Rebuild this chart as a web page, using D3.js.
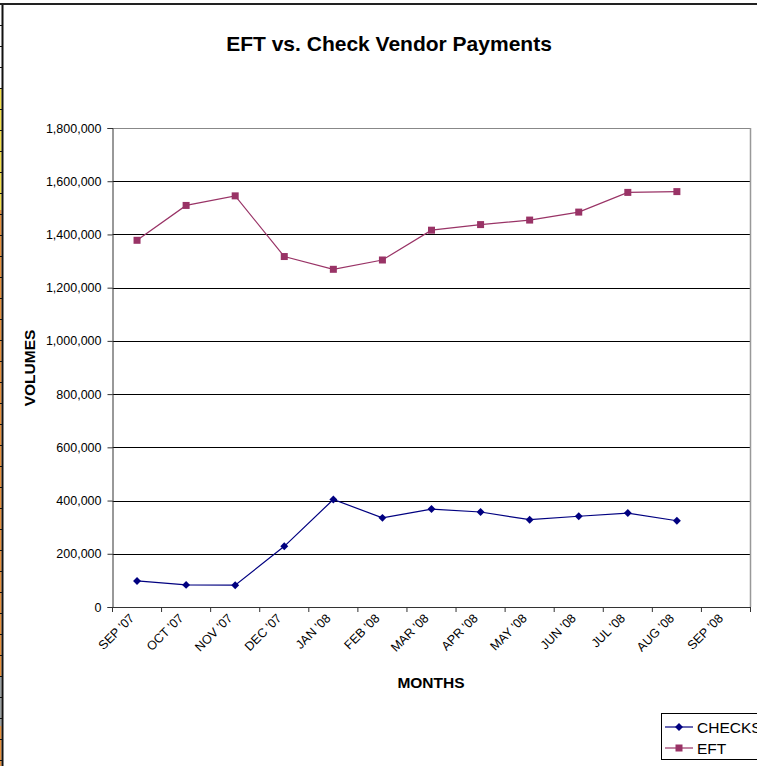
<!DOCTYPE html>
<html><head><meta charset="utf-8">
<script src="https://cdn.jsdelivr.net/npm/d3@7"></script>
<style>body{margin:0;background:#fff}svg{display:block;font-family:Arial,"Liberation Sans",sans-serif}</style>
</head><body>
<script>
const months = ["SEP '07","OCT '07","NOV '07","DEC '07","JAN '08","FEB '08","MAR '08","APR '08","MAY '08","JUN '08","JUL '08","AUG '08","SEP '08"];
const checks = [98000, 83000, 82000, 228000, 404000, 335000, 368000, 357000, 328000, 341000, 353000, 324000];
const eft = [1378000, 1509000, 1545000, 1317000, 1269000, 1304000, 1416000, 1437000, 1454000, 1484000, 1558000, 1561000];
const yTicks = [0,200000,400000,600000,800000,1000000,1200000,1400000,1600000,1800000];
const seriesNames = ["CHECKS","EFT"];

const W=757,H=766;
const svg=d3.select("body").append("svg").attr("width",W).attr("height",H);

// sheet borders
const left=svg.append("g");
left.append("rect").attr("x",0).attr("y",88).attr("width",1.5).attr("height",122).attr("fill","#f4e04a");
left.append("rect").attr("x",0).attr("y",210).attr("width",1.5).attr("height",466).attr("fill","#e8903a");
left.append("rect").attr("x",0).attr("y",676).attr("width",1.5).attr("height",50).attr("fill","#9aa0a0");
left.append("rect").attr("x",0).attr("y",726).attr("width",1.5).attr("height",40).attr("fill","#e8903a");
left.append("rect").attr("x",1.5).attr("y",3).attr("width",2).attr("height",763).attr("fill","#111");
d3.range(25,766,21).forEach(y=>left.append("rect").attr("x",0).attr("y",y).attr("width",2).attr("height",1).attr("fill","#111"));
svg.append("rect").attr("x",0).attr("y",3).attr("width",W).attr("height",2).attr("fill","#222");

const x0=112.5,x1=750.5,yb=607,yt=128;
const x=d3.scaleBand().domain(months).range([x0,x1]);
const y=d3.scaleLinear().domain([0,1800000]).range([yb,yt]);

// gridlines
svg.append("g").selectAll("line").data(yTicks.slice(1)).join("line")
  .attr("x1",x0).attr("x2",x1).attr("y1",d=>Math.round(y(d))+0.5).attr("y2",d=>Math.round(y(d))+0.5)
  .attr("stroke",d=>d===1800000?"#888":"#000").attr("stroke-width",1);
// right border
svg.append("line").attr("x1",x1).attr("x2",x1).attr("y1",yt).attr("y2",yb).attr("stroke","#999").attr("stroke-width",1.5);

// y axis
const ya=svg.append("g").attr("transform",`translate(${x0},0)`)
  .call(d3.axisLeft(y).tickValues(yTicks).tickSize(5).tickPadding(6).tickFormat(d3.format(",")));
ya.select(".domain").attr("stroke","#333");
ya.selectAll(".tick line").attr("stroke","#333");
ya.selectAll("text").attr("font-size","12.5px").attr("fill","#000").attr("font-family","Arial,'Liberation Sans',sans-serif");

// x axis
const xa=svg.append("g").attr("transform",`translate(0,${yb})`)
  .call(d3.axisBottom(x).tickSize(0).tickFormat(""));
xa.select(".domain").attr("stroke","#333");
const bounds=months.map((m,i)=>x0+i*x.step()).concat([x1]);
xa.selectAll(".tk").data(bounds).join("line").attr("class","tk")
  .attr("x1",d=>d).attr("x2",d=>d).attr("y1",0).attr("y2",5).attr("stroke","#333");
svg.append("g").selectAll("text").data(months).join("text")
  .attr("transform",d=>`translate(${x(d)+x.bandwidth()/2-2},${yb+12}) rotate(-45)`)
  .attr("text-anchor","end").attr("font-size","12.5px").attr("fill","#000").text(d=>d);

// lines
const cx=i=>x(months[i])+x.bandwidth()/2;
const line=d3.line().x((d,i)=>cx(i)).y(d=>y(d));
svg.append("path").datum(checks).attr("d",line).attr("fill","none").attr("stroke","#000080").attr("stroke-width",1.2);
svg.append("path").datum(eft).attr("d",line).attr("fill","none").attr("stroke","#993366").attr("stroke-width",1.2);
svg.append("g").selectAll("path").data(checks).join("path")
  .attr("d",d3.symbol(d3.symbolDiamond2,40)).attr("transform",(d,i)=>`translate(${cx(i)},${y(d)})`).attr("fill","#000080");
svg.append("g").selectAll("rect").data(eft).join("rect")
  .attr("x",(d,i)=>cx(i)-3.5).attr("y",d=>y(d)-3.5).attr("width",7).attr("height",7).attr("fill","#993366");

// titles
svg.append("text").attr("x",389).attr("y",51).attr("text-anchor","middle").attr("font-size","21px").attr("font-weight","bold").text("EFT vs. Check Vendor Payments");
svg.append("text").attr("transform","translate(34.5,368) rotate(-90)").attr("text-anchor","middle").attr("font-size","15.5px").attr("font-weight","bold").text("VOLUMES");
svg.append("text").attr("x",431).attr("y",688).attr("text-anchor","middle").attr("font-size","15.5px").attr("font-weight","bold").text("MONTHS");

// legend
const lg=svg.append("g");
lg.append("rect").attr("x",661.5).attr("y",713.5).attr("width",110).attr("height",46).attr("fill","#fff").attr("stroke","#000");
seriesNames.forEach((n,i)=>{
  const yy=727+i*21;
  const c=i===0?"#000080":"#993366";
  lg.append("line").attr("x1",665).attr("x2",693).attr("y1",yy).attr("y2",yy).attr("stroke",c).attr("stroke-width",1.2);
  if(i===0) lg.append("path").attr("d",d3.symbol(d3.symbolDiamond2,40)).attr("transform",`translate(679,${yy})`).attr("fill",c);
  else lg.append("rect").attr("x",675.5).attr("y",yy-3.5).attr("width",7).attr("height",7).attr("fill",c);
  lg.append("text").attr("x",697).attr("y",yy+5.5).attr("font-size","15.5px").text(n);
});
</script>
</body></html>
